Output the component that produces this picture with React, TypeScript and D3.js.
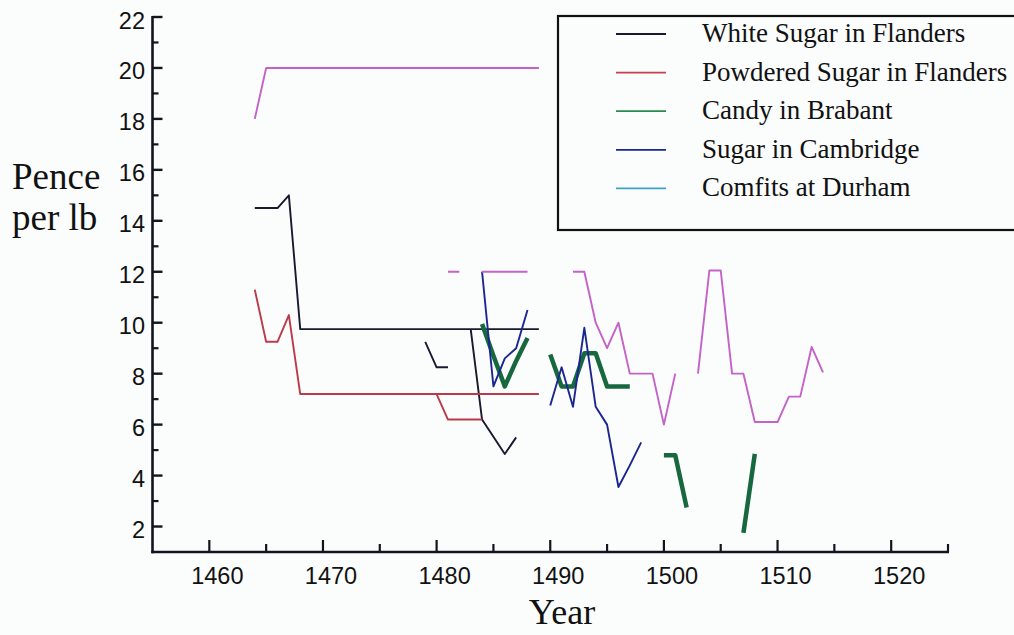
import React from "react";
import * as d3 from "d3";

type P = [number, number | null];

// ---- data (year, pence per lb); null = gap between separate runs ----
const whiteSugarFlanders: P[] = [
  [1464, 14.5], [1466, 14.5], [1467, 15], [1468, 9.75], [1489, 9.75], [1489, null],
  [1479, 9.25], [1480, 8.25], [1481, 8.25], [1481, null],
  [1483, 9.75], [1484, 6.2], [1486, 4.85], [1487, 5.5],
];
const powderedSugarFlanders: P[] = [
  [1464, 11.3], [1465, 9.25], [1466, 9.25], [1467, 10.3], [1468, 7.2], [1489, 7.2], [1489, null],
  [1480, 7.2], [1481, 6.2], [1484, 6.2],
];
const candyBrabant: P[] = [
  [1484, 9.95], [1485, 8.7], [1486, 7.5], [1487, 8.5], [1488, 9.4], [1488, null],
  [1490, 8.75], [1491, 7.5], [1492, 7.5], [1493, 8.8], [1494, 8.8], [1495, 7.5], [1496, 7.5], [1497, 7.5], [1497, null],
  [1500, 4.8], [1501, 4.8], [1502, 2.75], [1502, null],
  [1507, 1.75], [1508, 4.85],
];
const sugarCambridge: P[] = [
  [1484, 12], [1485, 7.5], [1486, 8.6], [1487, 9], [1488, 10.5], [1488, null],
  [1490, 6.75], [1491, 8.25], [1492, 6.7], [1493, 9.8], [1494, 6.7], [1495, 6], [1496, 3.55], [1497, 4.4], [1498, 5.3],
];
const comfitsDurham: P[] = [
  [1464, 18], [1465, 20], [1489, 20], [1489, null],
  [1481, 12], [1482, 12], [1482, null],
  [1484, 12], [1488, 12], [1488, null],
  [1492, 12], [1493, 12], [1494, 10], [1495, 9], [1496, 10], [1497, 8], [1498, 8], [1499, 8], [1500, 6], [1501, 8], [1501, null],
  [1503, 8], [1504, 12.05], [1505, 12.05], [1506, 8], [1507, 8], [1508, 6.1], [1509, 6.1], [1510, 6.1],
  [1511, 7.1], [1512, 7.1], [1513, 9.05], [1514, 8.05],
];

const legendLabels = [
  "White Sugar in Flanders",
  "Powdered Sugar in Flanders",
  "Candy in Brabant",
  "Sugar in Cambridge",
  "Comfits at Durham",
];
const xTicks = [1460, 1470, 1480, 1490, 1500, 1510, 1520];
const xMinorTicks = [1465, 1475, 1485, 1495, 1505, 1515, 1525];
const yTicks = [2, 4, 6, 8, 10, 12, 14, 16, 18, 20, 22];
const yMinorTicks = [3, 5, 7, 9, 11, 13, 15, 17, 19, 21];

const series = [
  { data: whiteSugarFlanders, color: "#181b30", width: 1.9, legend: "#181b30" },
  { data: powderedSugarFlanders, color: "#bb3a4a", width: 1.9, legend: "#c8404e" },
  { data: candyBrabant, color: "#17683f", width: 4.5, legend: "#2a8a52" },
  { data: sugarCambridge, color: "#1b2690", width: 1.9, legend: "#1b2690" },
  { data: comfitsDurham, color: "#c462c8", width: 1.9, legend: "#3ea2c6" },
];

const serif = "'Liberation Serif', 'Times New Roman', serif";
const sans = "'Liberation Sans', Arial, Helvetica, sans-serif";

export default function App() {
  const W = 1014, H = 635;
  const x = d3.scaleLinear().domain([1455, 1525]).range([152.5, 948]);
  const y = d3.scaleLinear().domain([1, 22]).range([552, 17]);
  const line = d3
    .line<P>()
    .defined((d) => d[1] !== null)
    .x((d) => x(d[0]))
    .y((d) => y(d[1] as number));

  const axisColor = "#12141f";
  const x0 = x(1455), yb = y(1);

  return (
    <svg width={W} height={H} style={{ position: "absolute", left: 0, top: 0, background: "#fbfcfc" }}>
      <rect x={0} y={0} width={W} height={H} fill="#fbfcfc" />
      {/* data */}
      {series.map((s, i) => (
        <path key={i} d={line(s.data) || ""} fill="none" stroke={s.color} strokeWidth={s.width}
          strokeLinejoin="round" strokeLinecap="butt" />
      ))}
      {/* y axis */}
      <line x1={x0} x2={x0} y1={y(22) - 1} y2={yb + 1.2} stroke={axisColor} strokeWidth={2.6} />
      {yTicks.map((t) => (
        <g key={"yt" + t}>
          <line x1={x0} x2={x0 + 10} y1={y(t)} y2={y(t)} stroke={axisColor} strokeWidth={2.4} />
          <text x={145} y={y(t) + 11.5} textAnchor="end" fontFamily={sans} fontSize={23.5} fill="#111">{t}</text>
        </g>
      ))}
      {yMinorTicks.map((t) => (
        <line key={"ym" + t} x1={x0} x2={x0 + 6} y1={y(t)} y2={y(t)} stroke={axisColor} strokeWidth={2.2} />
      ))}
      {/* x axis */}
      <line x1={x0 - 1.2} x2={x(1525) + 1} y1={yb} y2={yb} stroke={axisColor} strokeWidth={2.6} />
      {xTicks.map((t) => (
        <g key={"xt" + t}>
          <line x1={x(t)} x2={x(t)} y1={yb} y2={yb - 12} stroke={axisColor} strokeWidth={2.2} />
          <text x={x(t) + 8} y={584} textAnchor="middle" fontFamily={sans} fontSize={23.5} fill="#111">{t}</text>
        </g>
      ))}
      {xMinorTicks.map((t) => (
        <line key={"xm" + t} x1={x(t)} x2={x(t)} y1={yb} y2={yb - 8} stroke={axisColor} strokeWidth={2.2} />
      ))}
      {/* axis titles */}
      <text x={12} y={189} fontFamily={serif} fontSize={37} fill="#111">Pence</text>
      <text x={12} y={230} fontFamily={serif} fontSize={37} fill="#111">per lb</text>
      <text x={562} y={624} textAnchor="middle" fontFamily={serif} fontSize={36} fill="#111">Year</text>
      {/* legend */}
      <rect x={558} y={16} width={480} height={214} fill="none" stroke="#111" strokeWidth={2.2} />
      {legendLabels.map((lab, i) => (
        <g key={lab}>
          <line x1={616} x2={666} y1={34 + i * 38.6} y2={34 + i * 38.6} stroke={series[i].legend} strokeWidth={1.8} />
          <text x={702} y={42 + i * 38.6} fontFamily={serif} fontSize={27} fill="#111">{lab}</text>
        </g>
      ))}
    </svg>
  );
}
